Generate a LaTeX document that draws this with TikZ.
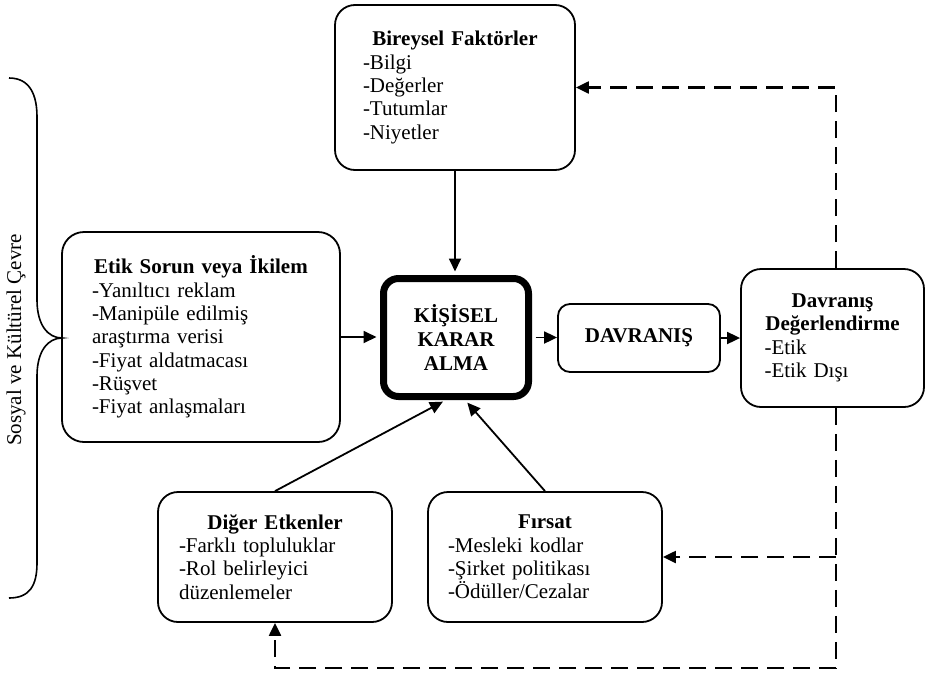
\documentclass[tikz,border=0pt]{standalone}
\usepackage{fontspec}
\setmainfont{Liberation Serif}
\usetikzlibrary{arrows.meta}
% centred heading line inside a left-aligned box
\newcommand{\headline}[1]{\hspace*{\fill}\textbf{#1}\hspace*{\fill}\null}
\begin{document}
\begin{tikzpicture}[x=1pt,y=-1pt,
  txt/.style={font=\fontsize{21}{23.3}\selectfont},
  box/.style={draw, line width=1.8pt, inner sep=0pt, align=left, txt, rounded corners=20pt},
  arr/.style={line width=1.8pt, -{Triangle[length=13pt,width=12pt]}},
  dline/.style={line width=2.2pt, dash pattern=on 17pt off 9pt},
  darr/.style={dline, -{Triangle[length=13pt,width=12pt]}},
]
\useasboundingbox (0,0) rectangle (926,675);

% boxes
\node[box, minimum width=240pt, minimum height=165pt, text width=184pt] (bir) at (455,87.5)
  {\headline{Bireysel Faktörler}\\-Bilgi\\-Değerler\\-Tutumlar\\-Niyetler};
\node[box, minimum width=278pt, minimum height=210pt, text width=218pt, rounded corners=22pt] (etik) at (201,337)
  {\headline{Etik Sorun veya İkilem}\\-Yanıltıcı reklam\\-Manipüle edilmiş\\araştırma verisi\\-Fiyat aldatmacası\\-Rüşvet\\-Fiyat anlaşmaları};
\node[draw, line width=7pt, rounded corners=15pt, inner sep=0pt, minimum width=145pt, minimum height=118pt,
  align=center, font=\fontsize{21}{24}\selectfont\bfseries] (kisi) at (456,337.5) {KİŞİSEL\\KARAR\\ALMA};
\node[box, rounded corners=12pt, minimum width=162pt, minimum height=68pt, align=center,
  font=\fontsize{21}{23}\selectfont\bfseries] (dav) at (639,338) {DAVRANIŞ};
\node[box, minimum width=183pt, minimum height=138pt, text width=136pt] (dd) at (832.5,338)
  {\headline{Davranış}\\\headline{Değerlendirme}\\-Etik\\-Etik Dışı};
\node[box, minimum width=234pt, minimum height=130pt, text width=192pt] (dig) at (275,557)
  {\headline{Diğer Etkenler}\\-Farklı topluluklar\\-Rol belirleyici\\düzenlemeler};
\node[box, minimum width=234pt, minimum height=130pt, text width=194pt] (fir) at (545,557)
  {\headline{Fırsat}\\-Mesleki kodlar\\-Şirket politikası\\-Ödüller/Cezalar};

% surrounding environment brace and label
\draw[line width=1.6pt] (9,78) .. controls (30,78) and (37,95) .. (37,117) -- (37,300)
  .. controls (37,325) and (48,338) .. (62,338)
  .. controls (48,338) and (37,351) .. (37,376) -- (37,563)
  .. controls (37,585) and (30,598) .. (9,598);
\node[txt, rotate=90, inner sep=0pt] (env) at (16,340) {Sosyal ve Kültürel Çevre};

% solid connectors
\draw[arr, shorten >=3.5pt] (bir.south) -- (bir.south |- kisi.north);
\draw[arr, shorten >=3.5pt] (etik.east) -- (etik.east -| kisi.west);
\draw[arr, shorten <=3.5pt] (kisi.east) -- (kisi.east -| dav.west);
\draw[arr] (dav.east) -- (dav.east -| dd.west);
\draw[arr, shorten >=3.5pt] (dig.north) -- ([xshift=-10pt]kisi.south);
\draw[arr, shorten >=3.5pt] (fir.north) -- ([xshift=9pt]kisi.south);

% dashed feedback loops
\coordinate (dtop) at ([xshift=3.5pt]dd.north);
\coordinate (dbot) at ([xshift=3.5pt]dd.south);
\coordinate (low) at (0,668);
\coordinate (dcorner) at (dbot |- low);
\draw[darr] (dtop) |- (bir.east);
\draw[dline] (dbot) -- (dcorner);
\draw[darr] (dcorner) -| (dig.south);
\draw[darr] (fir.east -| dcorner) -- (fir.east);
\end{tikzpicture}
\end{document}
